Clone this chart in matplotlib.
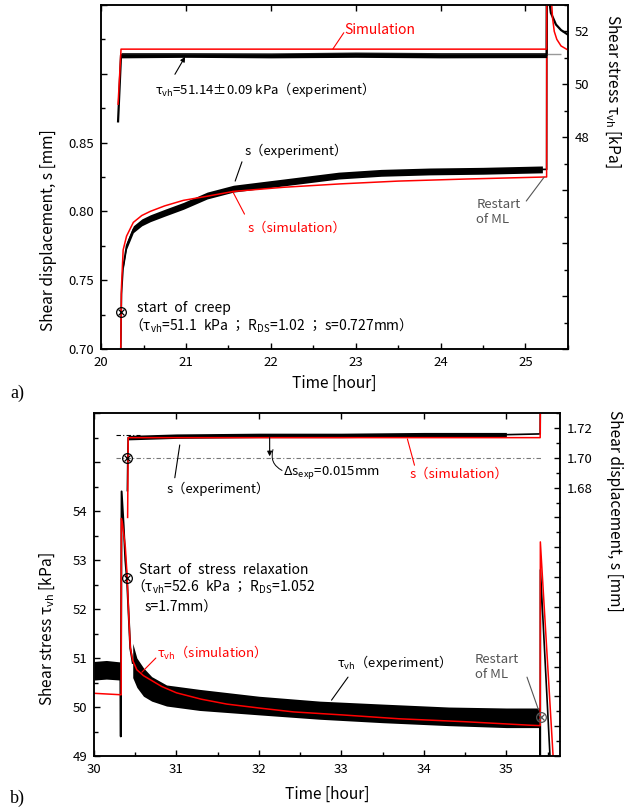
import matplotlib
matplotlib.use("Agg")
import matplotlib.pyplot as plt
from matplotlib.ticker import MultipleLocator, FixedLocator, FixedFormatter

# ---- a) creep stage ----
# shear displacement, simulation
a_sim_t = [20.23, 20.24, 20.26, 20.30, 20.38, 20.48, 20.58, 20.75, 20.97, 21.25,
           21.56, 22.15, 22.83, 23.5, 24.3, 25.25, 25.252]
a_sim_s = [0.69, 0.745, 0.772, 0.782, 0.792, 0.797, 0.800, 0.804, 0.808, 0.811,
           0.8145, 0.8175, 0.820, 0.822, 0.8235, 0.825, 0.96]
# shear displacement, experiment (centre of noisy band)
a_exp_t = [20.23, 20.24, 20.26, 20.30, 20.38, 20.48, 20.58, 20.75, 20.97, 21.25,
           21.56, 22.15, 22.8, 23.3, 23.87, 24.5, 25.2, 25.25, 25.252]
a_exp_s = [0.69, 0.74, 0.76, 0.775, 0.787, 0.792, 0.795, 0.799, 0.804, 0.8115,
           0.8165, 0.821, 0.826, 0.828, 0.829, 0.8295, 0.8305, 0.8305, 0.96]
a_exp_half = 0.0025
# shear stress, simulation
a_tau_sim_t = [20.20, 20.235, 25.25, 25.252, 25.305, 25.32, 25.34, 25.37, 25.42, 25.5]
a_tau_sim = [49.25, 51.33, 51.33, 54.0, 53.3, 52.5, 52.0, 51.7, 51.45, 51.3]
# shear stress, experiment
a_tau_exp_t = [20.20, 20.235, 21.0, 22.0, 23.0, 24.0, 25.25, 25.252, 25.28, 25.30,
               25.36, 25.42, 25.5]
a_tau_exp = [48.6, 51.1, 51.1, 51.1, 51.12, 51.1, 51.1, 54.0, 53.2, 52.7,
             52.26, 52.05, 51.88]
a_band_t = [20.235, 21.0, 22.0, 23.0, 24.0, 25.25]
a_band_hi = [51.2, 51.2, 51.19, 51.22, 51.2, 51.2]
a_band_lo = [51.0, 51.02, 51.0, 51.02, 51.0, 51.01]
a_tau_mean = 51.14
a_creep_pt = (20.23, 0.727)

# ---- b) stress relaxation stage ----
b_tau_sim_t = [30.0, 30.33, 30.332, 30.345, 30.38, 30.40, 30.42, 30.44, 30.47, 30.52,
               30.6, 30.69, 30.82, 31.0, 31.3, 31.61, 32.0, 32.42, 33.0, 33.7,
               34.5, 35.27, 35.41, 35.412, 35.57]
b_tau_sim = [50.28, 50.25, 53.85, 53.75, 53.27, 52.73, 51.92, 51.22, 50.95, 50.76,
             50.64, 50.55, 50.42, 50.29, 50.16, 50.06, 49.98, 49.9, 49.84, 49.76,
             49.7, 49.63, 49.62, 53.37, 48.9]
b_pre_t = [30.0, 30.15, 30.32]
b_pre_hi = [50.93, 50.95, 50.92]
b_pre_lo = [50.55, 50.57, 50.55]
b_peak_t = [30.32, 30.325, 30.335, 30.36, 30.38, 30.40, 30.42, 30.44, 30.47]
b_peak_tau = [50.75, 49.4, 54.4, 53.7, 53.0, 52.6, 51.9, 51.2, 50.9]
b_post_t = [30.47, 30.52, 30.6, 30.7, 30.88, 31.28, 32.0, 32.74, 33.5, 34.3, 35.0, 35.41]
b_post_hi = [51.3, 51.0, 50.8, 50.62, 50.45, 50.36, 50.22, 50.12, 50.06, 50.0, 49.98, 49.98]
b_post_lo = [50.6, 50.4, 50.22, 50.12, 50.02, 49.93, 49.84, 49.75, 49.68, 49.62, 49.58, 49.58]
b_end_t = [35.41, 35.411, 35.413, 35.535]
b_end_tau = [49.8, 48.8, 52.8, 48.8]
b_s_sim_t = [30.408, 30.415, 35.41, 35.412]
b_s_sim = [1.66, 1.7135, 1.7135, 1.74]
b_s_exp_t = [30.405, 30.41, 30.415, 31.0, 32.0, 33.0, 34.0, 35.0, 35.41, 35.412]
b_s_exp = [1.678, 1.700, 1.7135, 1.7145, 1.715, 1.715, 1.7155, 1.7155, 1.716, 1.74]
b_s_half = 0.0015
b_relax_pt = (30.40, 52.63)
b_relax_s = 1.70
b_restart_pt = (35.42, 49.8)

RED = '#ff0000'
GRAY = '#555555'
plt.rcParams['font.family'] = ['Noto Sans CJK JP', 'DejaVu Sans']
plt.rcParams['mathtext.fontset'] = 'dejavusans'
plt.rcParams['axes.linewidth'] = 1.1
FS = 9.5      # tick labels and short notes
FS_W = 10     # notes with several words
FS_L = 11.2   # axis labels
SUB_VH = r'$_{\mathregular{vh}}$'
SUB_DS = r'$_{\mathregular{DS}}$'
SP = '\u2002'  # wider word space, like the original gothic font


def style_ticks(a):
    a.tick_params(which='both', direction='in', labelsize=FS, width=1.0)
    a.tick_params(which='major', length=4.5, pad=5)
    a.tick_params(which='minor', length=3)


def fixed_y(a, lo, hi, ticks, labels, minor):
    a.set_ylim(lo, hi)
    a.yaxis.set_major_locator(FixedLocator(ticks))
    a.yaxis.set_major_formatter(FixedFormatter(labels))
    a.yaxis.set_minor_locator(MultipleLocator(minor))


def otimes(a, x, y, color='black'):
    a.plot([x], [y], 'o', mfc='none', mec=color, ms=7, mew=0.9, zorder=5)
    a.plot([x], [y], 'x', color=color, ms=5, mew=0.9, zorder=5)


def pointer(a, xy, xytext, color='black', arrow=False):
    a.annotate('', xy=xy, xytext=xytext,
               arrowprops=dict(arrowstyle='-|>' if arrow else '-', color=color,
                               lw=0.8, mutation_scale=7, shrinkA=0, shrinkB=0))


fig = plt.figure(figsize=(6.24, 8.11), dpi=100)

# ================= a) =================
ax = fig.add_axes([0.162, 0.5697, 0.748, 0.4242])
tw = ax.twinx()
ax.set_xlim(20, 25.5)
ax.xaxis.set_major_locator(MultipleLocator(1))
ax.xaxis.set_minor_locator(MultipleLocator(0.5))
fixed_y(ax, 0.70, 0.95, [0.70, 0.75, 0.80, 0.85, 0.90, 0.95],
        ['0.70', '0.75', '0.80', '0.85', '', ''], 0.025)
fixed_y(tw, 40, 53, [40, 42, 44, 46, 48, 50, 52],
        ['', '', '', '', '48', '50', '52'], 1)
style_ticks(ax)
style_ticks(tw)
ax.tick_params(axis='x', top=True)
ax.tick_params(axis='y', right=False)

ax.fill_between(a_exp_t[2:-2], [v - a_exp_half for v in a_exp_s[2:-2]],
                [v + a_exp_half for v in a_exp_s[2:-2]], color='black', lw=0)
ax.plot(a_exp_t, a_exp_s, color='black', lw=1.2)
ax.plot(a_sim_t, a_sim_s, color=RED, lw=1.1)
otimes(ax, *a_creep_pt)

tw.hlines(a_tau_mean, 20.235, 25.42, color='#999999', lw=1.0)
tw.fill_between(a_band_t, a_band_lo, a_band_hi, color='black', lw=0)
tw.plot(a_tau_exp_t, a_tau_exp, color='black', lw=1.6)
tw.plot(a_tau_sim_t, a_tau_sim, color=RED, lw=1.1)

ax.set_xlabel('Time [hour]', fontsize=FS_L)
ax.xaxis.set_label_coords(0.50, -0.075)
ax.set_ylabel('Shear displacement, s [mm]', fontsize=FS_L)
ax.yaxis.set_label_coords(-0.094, 0.346)
tw.set_ylabel('Shear stress τ' + SUB_VH + ' [kPa]', fontsize=FS_L, rotation=270,
              va='bottom')
tw.yaxis.set_label_coords(1.075, 0.75)

tw.text(22.87, 52.05, 'Simulation', color=RED, fontsize=FS_W, va='center')
pointer(tw, (22.73, 51.33), (22.86, 51.95), RED)
tw.text(20.635, 49.81, 'τ' + SUB_VH + '=51.14±0.09 kPa（experiment）', fontsize=FS,
        va='center')
pointer(tw, (20.99, 51.04), (20.87, 50.38), arrow=True)
ax.text(21.69, 0.8438, 's（experiment）', fontsize=FS, va='center')
pointer(ax, (21.58, 0.822), (21.66, 0.836))
ax.text(21.72, 0.788, 's（simulation）', fontsize=FS, va='center', color=RED)
pointer(ax, (21.55, 0.8145), (21.69, 0.798), RED)
ax.text(24.42, 0.7995, 'Restart\nof ML', fontsize=FS, va='center', color=GRAY,
        linespacing=1.25)
pointer(ax, (25.22, 0.8248), (25.01, 0.8075), GRAY)
ax.text(20.42, 0.7295, SP.join(['start', 'of', 'creep']), fontsize=FS_W, va='center')
ax.text(20.33, 0.7165, '（τ' + SUB_VH + '=51.1' + SP + 'kPa ； R' + SUB_DS +
        '=1.02 ； s=0.727mm）', fontsize=FS_W, va='center')

fig.text(0.016, 1 - 393 / 811, 'a)', family='Liberation Serif', fontsize=13,
         va='center')

# ================= b) =================
bx = fig.add_axes([0.1506, 0.0678, 0.7468, 0.4229])
bt = bx.twinx()
bx.set_xlim(30, 35.65)
bx.xaxis.set_major_locator(MultipleLocator(1))
bx.xaxis.set_minor_locator(MultipleLocator(0.5))
fixed_y(bx, 49, 56, [49, 50, 51, 52, 53, 54, 55, 56],
        ['49', '50', '51', '52', '53', '54', '', ''], 0.5)
fixed_y(bt, 1.50, 1.73, [1.50, 1.52, 1.54, 1.56, 1.58, 1.60, 1.62, 1.64, 1.66, 1.68, 1.70, 1.72],
        ['', '', '', '', '', '', '', '', '', '1.68', '1.70', '1.72'], 0.01)
style_ticks(bx)
style_ticks(bt)
bx.tick_params(axis='x', top=True)
bx.tick_params(axis='y', right=False)

bx.fill_between(b_pre_t, b_pre_lo, b_pre_hi, color='black', lw=0)
bx.fill_between(b_post_t, b_post_lo, b_post_hi, color='black', lw=0)
bx.plot(b_peak_t, b_peak_tau, color='black', lw=1.4)
bx.plot(b_end_t, b_end_tau, color='black', lw=1.2)
bx.plot(b_tau_sim_t, b_tau_sim, color=RED, lw=1.1)
otimes(bx, *b_relax_pt)
otimes(bx, *b_restart_pt, color=GRAY)

bt.hlines(1.715, 30.27, 30.56, color='black', lw=0.8, linestyles=(0, (4, 2, 1, 2)))
bt.hlines(1.70, 30.27, 35.43, color='#777777', lw=0.8, linestyles=(0, (4, 2, 1, 2)))
bt.fill_between(b_s_exp_t[2:-2], [v - b_s_half for v in b_s_exp[2:-2]],
                [v + b_s_half for v in b_s_exp[2:-2]], color='black', lw=0)
bt.plot(b_s_exp_t, b_s_exp, color='black', lw=1.2)
bt.plot(b_s_sim_t, b_s_sim, color=RED, lw=1.1)
otimes(bt, b_relax_pt[0], b_relax_s)

bx.set_xlabel('Time [hour]', fontsize=FS_L)
bx.xaxis.set_label_coords(0.50, -0.088)
bx.set_ylabel('Shear stress τ' + SUB_VH + ' [kPa]', fontsize=FS_L)
bx.yaxis.set_label_coords(-0.079, 0.37)
bt.set_ylabel('Shear displacement, s [mm]', fontsize=FS_L, rotation=270, va='bottom')
bt.yaxis.set_label_coords(1.098, 0.714)

bt.text(30.88, 1.679, 's（experiment）', fontsize=FS, va='center')
pointer(bt, (31.04, 1.7086), (30.98, 1.6866))
pointer(bt, (32.13, 1.701), (32.13, 1.7135), arrow=True)
bt.annotate('', xy=(32.28, 1.6915), xytext=(32.17, 1.7055),
            arrowprops=dict(arrowstyle='-', lw=0.7, color='black',
                            connectionstyle='arc3,rad=0.4', shrinkA=0, shrinkB=0))
bt.text(32.29, 1.6904, 'Δs$_{\\mathregular{exp}}$=0.015mm', fontsize=FS, va='center')
bt.text(33.83, 1.689, 's（simulation）', fontsize=FS, va='center', color=RED)
pointer(bt, (33.80, 1.7126), (33.886, 1.695), RED)

bx.text(30.545, 52.80, SP.join(['Start', 'of', 'stress', 'relaxation']),
        fontsize=FS_W, va='center')
bx.text(30.45, 52.45, '（τ' + SUB_VH + '=52.6' + SP + 'kPa ； R' + SUB_DS + '=1.052',
        fontsize=FS_W, va='center')
bx.text(30.61, 52.02, 's=1.7mm）', fontsize=FS_W, va='center')
bx.text(30.76, 51.10, 'τ' + SUB_VH + '（simulation）', fontsize=FS, va='center',
        color=RED)
pointer(bx, (30.58, 50.71), (30.75, 51.0), RED)
bx.text(32.95, 50.90, 'τ' + SUB_VH + '（experiment）', fontsize=FS, va='center')
pointer(bx, (32.88, 50.14), (33.08, 50.61))
bx.text(34.62, 50.82, 'Restart\nof ML', fontsize=FS, va='center', color=GRAY,
        linespacing=1.25)
pointer(bx, (35.39, 49.94), (35.25, 50.61), GRAY)

fig.text(0.016, 1 - 798 / 811, 'b)', family='Liberation Serif', fontsize=13,
         va='center')

fig.savefig('out.png', dpi=100)
